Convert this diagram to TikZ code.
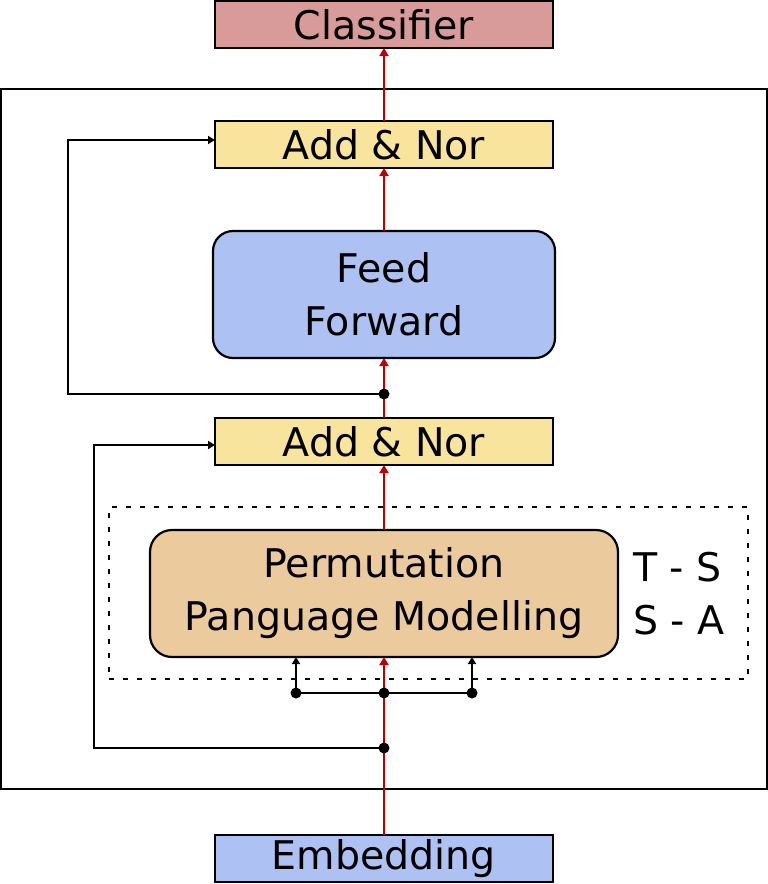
\documentclass[tikz,border=0pt]{standalone}
\usepackage{fontspec}
\setmainfont{DejaVu Sans}
\usetikzlibrary{arrows.meta}
\definecolor{cpink}{HTML}{D99A9A}
\definecolor{cyel}{HTML}{F9E49D}
\definecolor{cblue}{HTML}{ADC2F2}
\definecolor{ctan}{HTML}{EBCA9D}
\definecolor{cred}{HTML}{C00000}
\begin{document}
\begin{tikzpicture}[x=1pt,y=-1pt,
  box/.style={draw=black, line width=2.2pt, inner sep=0pt, outer sep=0pt, minimum width=338pt, minimum height=47pt, font=\fontsize{39.5}{53}\selectfont, align=center},
  rbox/.style={box, rounded corners=20pt},
  redarr/.style={draw=cred, line width=2.2pt, -{Triangle[length=8pt,width=9pt]}},
  blkarr/.style={draw=black, line width=2.2pt, -{Triangle[length=7pt,width=8pt]}},
  blk/.style={draw=black, line width=2.2pt},
  dot/.style={circle, fill=black, inner sep=0pt, minimum size=11pt}
]
\useasboundingbox (0,0) rectangle (768,884);
\fill[white] (0,0) rectangle (768,884);

\node[draw, line width=2.2pt, inner sep=0pt, outer sep=0pt, minimum width=766pt, minimum height=700pt] (outer) at (384,439) {};
\node[draw, line width=2.2pt, dash pattern=on 5pt off 9pt, inner sep=0pt, minimum width=639pt, minimum height=172pt] (dotted) at (428.5,593) {};

\node[box, fill=cpink] (cls) at (384,24.5) {Classifier};
\node[box, fill=cyel] (add1) at (384,144.5) {Add \& Nor};
\node[rbox, fill=cblue, minimum width=342pt, minimum height=127pt] (ff) at (384,294.5) {Feed\\Forward};
\node[box, fill=cyel] (add2) at (384,441.5) {Add \& Nor};
\node[rbox, fill=ctan, minimum width=468pt, minimum height=127pt, rounded corners=22pt] (plm) at (384,593.5) {Permutation\\Panguage Modelling};
\node[anchor=west, inner sep=0pt, align=left, font=\fontsize{39.5}{53}\selectfont] (ts) at (633,593.5) {T - S\\S - A};
\node[box, fill=cblue] (emb) at (384,858.5) {Embedding};

\coordinate (d1) at (384,394);
\coordinate (c1) at (68,394);
\coordinate (c1t) at (68,140);
\coordinate (d2) at (384,748);
\coordinate (c2) at (94,748);
\coordinate (c2t) at (94,445);
\coordinate (fl) at (296,693);
\coordinate (fm) at (384,693);
\coordinate (fr) at (472,693);

% red spine
\draw[redarr] (emb.north) -- (plm.south);
\draw[redarr] (plm.north) -- (add2.south);
\draw[redarr] (add2.north) -- (ff.south);
\draw[redarr] (ff.north) -- (add1.south);
\draw[redarr] (add1.north) -- (cls.south);

% fork
\draw[blk] (fl) -- (fr);
\draw[blkarr] (fl) -- (fl |- plm.south);
\draw[blkarr] (fr) -- (fr |- plm.south);

% residual loops
\draw[blkarr] (d1) -- (c1) -- (c1t) -- (c1t -| add1.west);
\draw[blkarr] (d2) -- (c2) -- (c2t) -- (c2t -| add2.west);

\node[dot] (p1) at (d1) {};
\node[dot] (p2) at (d2) {};
\node[dot] (p3) at (fl) {};
\node[dot] (p4) at (fm) {};
\node[dot] (p5) at (fr) {};
\end{tikzpicture}
\end{document}
